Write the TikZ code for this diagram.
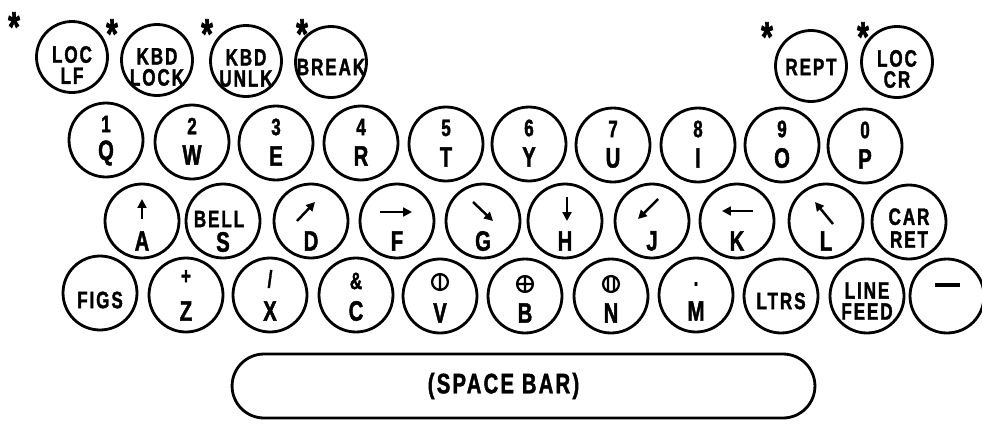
\documentclass[tikz,border=0pt]{standalone}
\usepackage{fontspec}
\setmainfont[FakeStretch=0.72, LetterSpace=8, BoldFeatures={FakeBold=1.5}]{Liberation Sans}
\usetikzlibrary{arrows.meta}

\begin{document}
\begin{tikzpicture}[x=0.02cm, y=-0.02cm]
  \tikzset{
    key/.style={circle, draw, line width=1.6pt, minimum size=1.48cm, inner sep=0pt},
    fkey/.style={key, minimum size=1.42cm},
    lbl/.style={font=\bfseries\fontsize{13.5}{12}\selectfont, align=center, inner sep=0pt},
    big/.style={font=\bfseries\fontsize{16}{14}\selectfont, inner sep=0pt},
    sym/.style={line width=1.3pt},
    kbarrow/.style={-{Triangle[length=5pt,width=5pt]}, line width=1.4pt},
    star/.style={font=\bfseries\fontsize{24}{24}\selectfont, inner sep=0pt, yshift=-5pt},
    spacebar/.style={draw, line width=1.6pt, rounded corners=0.64cm,
                     minimum width=11.66cm, minimum height=1.28cm},
  }
  \useasboundingbox (0,0) rectangle (982,423);

  % Function keys (top row)
  \foreach \n/\x/\y/\d/\t in {loclf/72/57/8/{LOC\\LF}, kbdlock/157/60/7/{KBD\\LOCK},
      kbdunlk/246/61/7/{KBD\\UNLK}, break/331/62/5/BREAK, rept/811/66/1/REPT,
      loccr/897/62/7/{LOC\\CR}}{
    \node[fkey] (\n) at (\x,\y) {};
    \node[lbl] (\n-t) at ([shift={(0,\d)}]\n.center) {\t};
  }
  % Asterisks
  \foreach \i/\x/\y in {1/14/18, 2/112/25, 3/207/25, 4/302/25, 5/767/28, 6/863/28}{
    \node[star] (ast\i) at (\x,\y) {*};
  }

  % Number / QWERTY row
  \foreach \n/\x/\y/\u/\l in {q/106/140/1/Q, w/192/142/2/W, e/276/143/3/E, r/361/143/4/R,
      t/446/144/5/T, y/529/144/6/Y, u/613/145/7/U, i/698/145/8/I, o/782/145/9/O, p/865/146/0/P}{
    \node[key] (\n) at (\x,\y) {};
    \node[lbl] (\n-u) at ([shift={(0,-16)}]\n.center) {\u};
    \node[big] (\n-l) at ([shift={(0,13)}]\n.center) {\l};
  }

  % Home row with arrow keys
  \foreach \n/\x/\l/\ax/\ay/\bx/\by in {a/142/A/0/-2/0/-22, d/311/D/-14/0/4/-19,
      f/397/F/-17/-9/15/-9, g/483/G/-10/-19/10/0, h/565/H/2/-24/2/0,
      j/652/J/6/-22/-14/-2, k/737/K/16/-10/-15/-10, l/826/L/7/3/-11/-19}{
    \node[key] (\n) at (\x,221) {};
    \node[big] (\n-l) at ([shift={(0,20)}]\n.center) {\l};
    \draw[kbarrow] ([shift={(\ax,\ay)}]\n.center) -- ([shift={(\bx,\by)}]\n.center);
  }
  \node[key] (s) at (223,221) {};
  \node[lbl] (s-u) at ([shift={(-4,-2)}]s.center) {BELL};
  \node[big] (s-l) at ([shift={(0,21)}]s.center) {S};
  \node[key] (carret) at (909,222) {};
  \node[lbl] (carret-t) at ([shift={(0,6)}]carret.center) {CAR\\[1pt]RET};

  % Bottom row
  \node[key] (figs) at (100,293) {};
  \node[lbl] (figs-t) at ([shift={(0,7)}]figs.center) {FIGS};
  \foreach \n/\x/\u/\d/\l in {z/186/+/-18/Z, x/270/{/}/-16/X, c/356/{\&}/-14/C, m/696/./-11/M}{
    \node[key] (\n) at (\x,295) {};
    \node[lbl] (\n-u) at ([shift={(0,\d)}]\n.center) {\u};
    \node[big] (\n-l) at ([shift={(0,16)}]\n.center) {\l};
  }
  \foreach \n/\x/\l in {v/440/V, b/525/B, n/611/N}{
    \node[key] (\n) at (\x,296) {};
    \node[big] (\n-l) at ([shift={(0,17)}]\n.center) {\l};
  }
  \draw[sym] ([shift={(0,-14)}]v.center) circle[radius=4.5pt] +(0,-8) -- +(0,8);
  \draw[sym] ([shift={(0,-12)}]b.center) circle[radius=4.5pt] +(0,-8) -- +(0,8) +(-8,0) -- +(8,0);
  \draw[sym] ([shift={(0,-12)}]n.center) circle[radius=4.5pt] +(-3,-8) -- +(-3,8) +(3,-8) -- +(3,8);
  \node[key] (ltrs) at (781,296) {};
  \node[lbl] (ltrs-t) at ([shift={(0,5)}]ltrs.center) {LTRS};
  \node[key] (linefeed) at (867,296) {};
  \node[lbl] (linefeed-t) at ([shift={(0,5)}]linefeed.center) {LINE\\FEED};
  \node[key] (dash) at (947,296) {};
  \draw[line width=2.5pt] ([shift={(-12,-11)}]dash.center) -- ([shift={(13,-11)}]dash.center);

  % Space bar
  \node[spacebar] (space) at (523.5,386) {};
  \node[big] (space-t) at ([shift={(-20,0)}]space.center) {(SPACE BAR)};
\end{tikzpicture}
\end{document}
